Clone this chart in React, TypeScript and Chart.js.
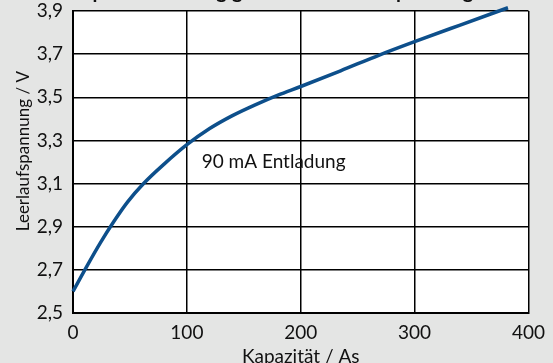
import React, { useEffect, useRef } from "react";
import { Chart, registerables } from "chart.js";

Chart.register(...registerables);

const titleText = "Kapazitätsabhängigkeit der Leerlaufspannung";
const xAxisTitle = "Kapazität / As";
const yAxisTitle = "     Leerlaufspannung / V";
const annotationText = "90 mA Entladung";
const annotationAt = { x: 113, y: 3.2 };

const capacity = [0, 12, 24, 36, 48, 62, 80, 100, 120, 140, 160, 180, 200, 235, 269, 300, 340, 382];
const voltage = [2.6, 2.715, 2.825, 2.925, 3.015, 3.1, 3.19, 3.28, 3.355, 3.415, 3.465, 3.51, 3.55, 3.623, 3.696, 3.758, 3.835, 3.915];

const FONT = "Lato";

export default function App() {
  const ref = useRef<HTMLCanvasElement | null>(null);
  useEffect(() => {
    if (!ref.current) return;
    const plotBg = {
      id: "plotBg",
      beforeDraw(chart: any) {
        const { ctx, chartArea } = chart;
        ctx.save();
        ctx.fillStyle = "#ffffff";
        ctx.fillRect(chartArea.left, chartArea.top, chartArea.right - chartArea.left, chartArea.bottom - chartArea.top);
        ctx.restore();
      },
    };
    const note = {
      id: "note",
      afterDatasetsDraw(chart: any) {
        const { ctx, scales } = chart;
        ctx.save();
        ctx.font = `19px ${FONT}`;
        ctx.fillStyle = "#111";
        ctx.textAlign = "left";
        ctx.textBaseline = "middle";
        ctx.fillText(annotationText, scales.x.getPixelForValue(annotationAt.x), scales.y.getPixelForValue(annotationAt.y));
        ctx.restore();
      },
    };
    const chart = new Chart(ref.current, {
      type: "line",
      data: {
        datasets: [
          {
            data: capacity.map((c, i) => ({ x: c, y: voltage[i] })),
            borderColor: "#0d4f8b",
            borderWidth: 3.5,
            pointRadius: 0,
            cubicInterpolationMode: "monotone",
            clip: false as any,
          },
        ],
      },
      options: {
        animation: false,
        responsive: false,
        maintainAspectRatio: false,
        layout: { padding: { left: 0, right: 11, top: 0, bottom: 0 } },
        plugins: {
          legend: { display: false },
          tooltip: { enabled: false },
          title: {
            display: true,
            text: titleText,
            color: "#111",
            font: { family: FONT, size: 20, weight: "bold" },
            padding: { top: 15, bottom: 7 },
          },
        },
        scales: {
          x: {
            type: "linear",
            min: 0,
            max: 400,
            afterFit: (s: any) => {
              s.height = 62;
            },
            ticks: { stepSize: 100, color: "#111", font: { family: FONT, size: 19 }, padding: 8 },
            grid: { color: "#000", lineWidth: 1.5, drawTicks: false },
            border: { color: "#000", width: 2 },
            title: {
              display: true,
              text: xAxisTitle,
              color: "#111",
              font: { family: FONT, size: 19 },
              padding: { top: 4, bottom: 7 },
            },
          },
          y: {
            min: 2.5,
            max: 3.9,
            afterFit: (s: any) => {
              s.width = 73;
            },
            ticks: {
              stepSize: 0.2,
              color: "#111",
              font: { family: FONT, size: 19 },
              padding: 10,
              callback: (v: any) => Number(v).toFixed(1).replace(".", ","),
            },
            grid: { color: "#000", lineWidth: 1.5, drawTicks: false },
            border: { color: "#000", width: 2 },
            title: {
              display: true,
              text: yAxisTitle,
              color: "#111",
              font: { family: FONT, size: 17 },
              padding: { top: 13, bottom: 0 },
            },
          },
        },
      },
      plugins: [plotBg, note],
    });
    return () => chart.destroy();
  }, []);
  return (
    <div style={{ position: "fixed", left: 0, top: -35, width: 553, height: 410, background: "#e4e5e4" }}>
      <canvas ref={ref} width={553} height={410} style={{ width: 553, height: 410, display: "block" }} />
    </div>
  );
}
